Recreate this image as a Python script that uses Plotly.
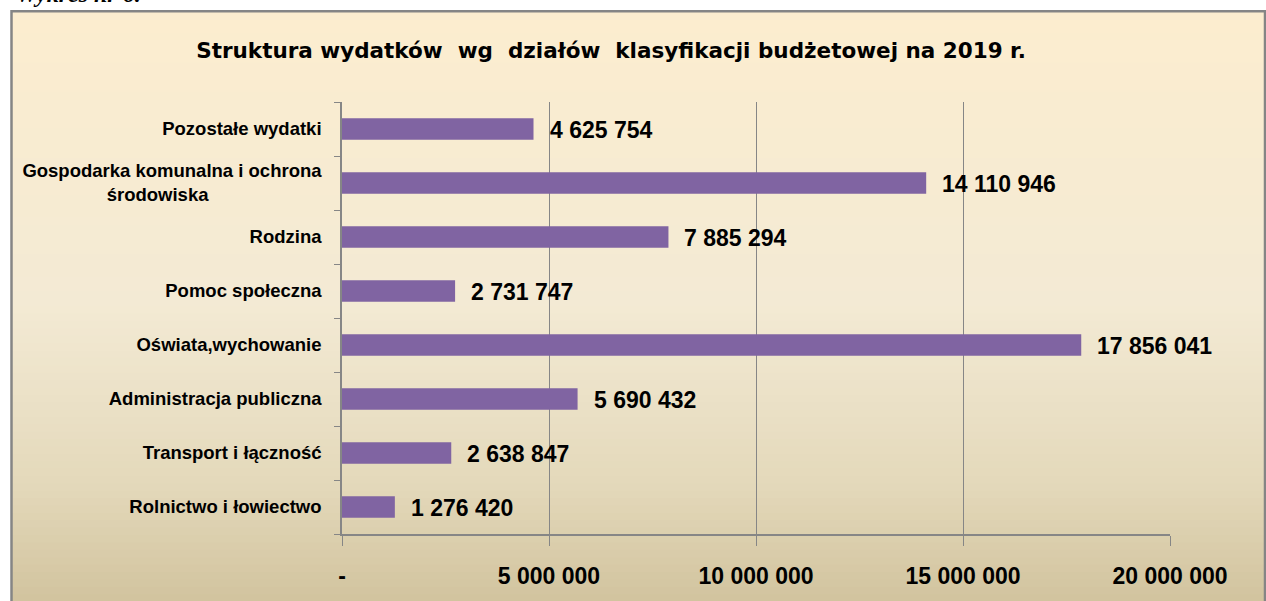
import plotly.graph_objects as go

# ---- data ----
categories = [
    "Rolnictwo i łowiectwo",
    "Transport i łączność",
    "Administracja publiczna",
    "Oświata,wychowanie",
    "Pomoc społeczna",
    "Rodzina",
    "Gospodarka komunalna i ochrona<br>środowiska" + "\u00a0" * 22,
    "Pozostałe wydatki",
]
values = [1276420, 2638847, 5690432, 17856041, 2731747, 7885294, 14110946, 4625754]
value_labels = ["1 276 420", "2 638 847", "5 690 432", "17 856 041",
                "2 731 747", "7 885 294", "14 110 946", "4 625 754"]
x_tickvals = [0, 5000000, 10000000, 15000000, 20000000]
x_ticktext = ["-", "5 000 000", "10 000 000", "15 000 000", "20 000 000"]
title_text = "Struktura wydatków  wg  działów  klasyfikacji budżetowej na 2019 r."

# ---- geometry helpers (pixel -> paper) ----
W, H = 1266, 601
L, R, T, B = 342, 1170, 102, 537
PW, PH = R - L, B - T
def xp(px):
    return (px - L) / PW
def yp(py):
    return (B - py) / PH

def hex2rgb(h):
    h = h.lstrip("#")
    return tuple(int(h[i:i + 2], 16) for i in (0, 2, 4))

stops = [(0.0, "#FCEDCF"), (0.5, "#F3EAD4"), (0.8, "#E4D9BB"), (1.0, "#D2C49F")]
def grad(t):
    for (t0, c0), (t1, c1) in zip(stops[:-1], stops[1:]):
        if t0 <= t <= t1:
            f = (t - t0) / (t1 - t0) if t1 > t0 else 0
            a, b = hex2rgb(c0), hex2rgb(c1)
            return "rgb(%d,%d,%d)" % tuple(round(a[i] + (b[i] - a[i]) * f) for i in range(3))
    return stops[-1][1]

shapes = []
top, bot = 10, 605
n = 80
for i in range(n):
    y0 = top + (bot - top) * i / n
    y1 = top + (bot - top) * (i + 1) / n + 0.8
    shapes.append(dict(type="rect", xref="paper", yref="paper",
                       x0=xp(11), x1=xp(1266), y0=yp(y1), y1=yp(y0),
                       fillcolor=grad(i / (n - 1)), line=dict(width=0), layer="below"))
shapes.append(dict(type="rect", xref="paper", yref="paper",
                   x0=xp(11.5), x1=xp(1265), y0=yp(606), y1=yp(10.5),
                   fillcolor="rgba(0,0,0,0)", line=dict(color="#858585", width=2.5),
                   layer="below"))

fig = go.Figure()
fig.add_trace(go.Bar(
    x=values, y=categories, orientation="h",
    marker=dict(color="#8064A2", line=dict(width=0)),
    width=0.4, hoverinfo="x+y",
))

annotations = []
for v, c, t in zip(values, categories, value_labels):
    annotations.append(dict(x=v, y=c, xref="x", yref="y", text="<b>%s</b>" % t, showarrow=False,
                            xanchor="left", yanchor="middle", xshift=14, yshift=-1,
                            font=dict(family="Liberation Sans", size=23, color="#000000")))
annotations.append(dict(x=xp(14), y=yp(11), xref="paper", yref="paper",
                        text="<b><i>Wykres nr 6.</i></b>", showarrow=False,
                        xanchor="left", yanchor="bottom", yshift=3,
                        font=dict(family="Liberation Serif", size=24, color="#000000")))

fig.update_layout(
    width=W, height=H,
    margin=dict(l=L, r=W - R, t=T, b=H - B),
    paper_bgcolor="white",
    plot_bgcolor="rgba(0,0,0,0)",
    showlegend=False,
    title=dict(text="<b>" + title_text + "</b>", x=611 / W, xanchor="center",
               y=1 - 50 / H, yanchor="middle", yref="container",
               font=dict(family="DejaVu Sans", size=21.5, color="#000000")),
    shapes=shapes,
    annotations=annotations,
    bargap=0.6,
)
fig.update_xaxes(
    range=[0, 20000000], tickvals=x_tickvals, ticktext=["<b>%s</b>" % t for t in x_ticktext],
    showgrid=True, gridcolor="#868686", gridwidth=1,
    showline=True, linecolor="#868686", linewidth=1.5,
    ticks="outside", ticklen=10, tickcolor="#868686", tickwidth=1,
    ticklabelstandoff=11,
    tickfont=dict(family="Liberation Sans", size=23, color="#000000"),
    zeroline=False, fixedrange=True,
)
fig.update_yaxes(
    categoryorder="array", categoryarray=categories,
    tickvals=categories, ticktext=["<b>%s</b>" % c for c in categories],
    showline=True, linecolor="#868686", linewidth=1.5,
    ticks="outside", tickson="boundaries", ticklen=6, tickcolor="#868686",
    ticklabelstandoff=15, showgrid=False,
    tickfont=dict(family="Liberation Sans", size=18.5, color="#000000"),
    fixedrange=True,
)

fig.write_html("out.html", config={"displayModeBar": False},
               post_script="document.body.style.margin='0';document.body.style.padding='0';")
